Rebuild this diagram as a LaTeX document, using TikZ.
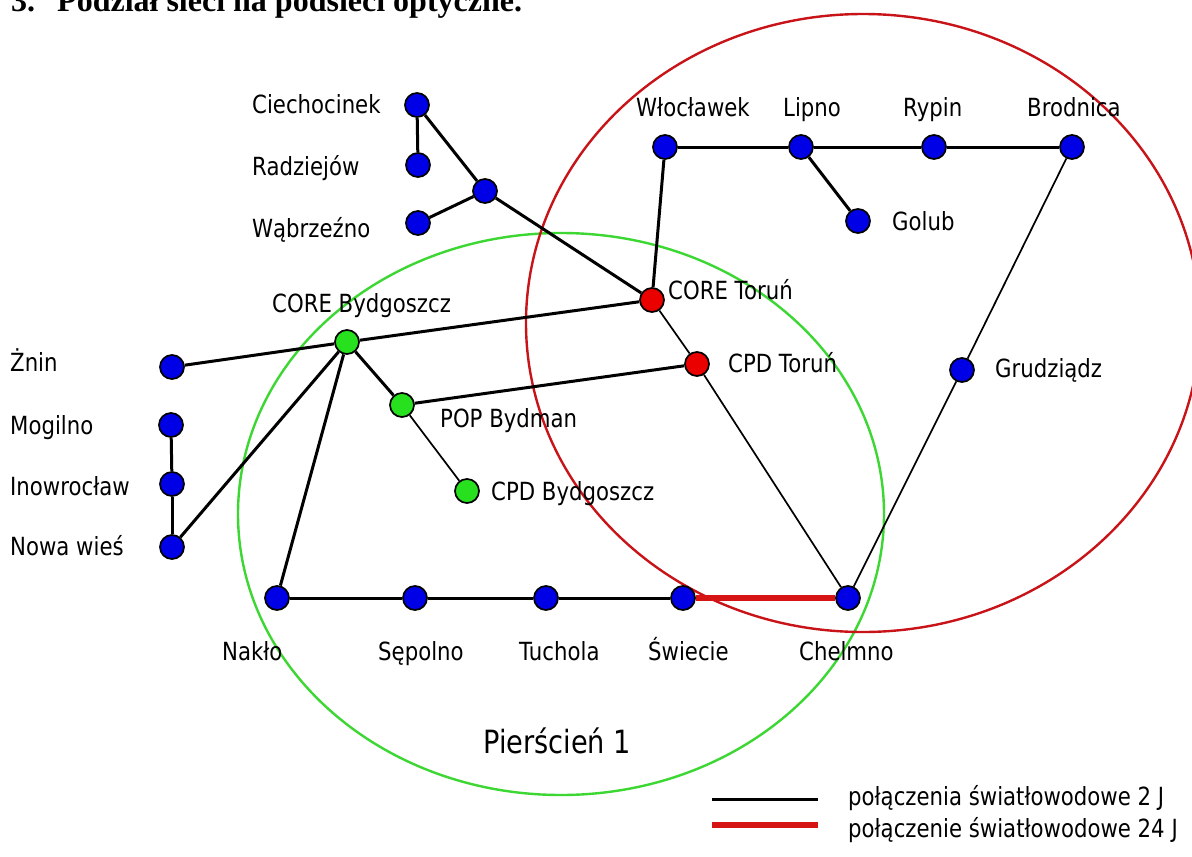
\documentclass[tikz,border=0pt]{standalone}
\usepackage{fontspec}
\setmainfont{DejaVu Sans}[FakeStretch=0.85]
\newfontfamily\titlefont{Liberation Serif}
\definecolor{nodeblue}{RGB}{0,0,230}
\definecolor{nodegreen}{RGB}{40,225,30}
\definecolor{nodered}{RGB}{235,0,0}
\definecolor{ringgreen}{RGB}{60,215,50}
\definecolor{ringred}{RGB}{200,20,25}
\definecolor{linkred}{RGB}{215,20,20}
\begin{document}
\begin{tikzpicture}[x=1pt,y=-1pt,
  city/.style={circle,draw=black,line width=1.7pt,fill=nodeblue,minimum size=24pt,inner sep=0pt},
  gcity/.style={city,fill=nodegreen},
  rcity/.style={city,fill=nodered},
  lbl/.style={anchor=base west,inner sep=0pt,font=\fontsize{25}{29}\selectfont},
  link/.style={line width=3pt,black},
  thinlink/.style={line width=1.7pt,black},
  biglink/.style={line width=5.5pt,linkred},
  ring/.style={line width=2.4pt}
]
\clip (0,0) rectangle (1192,857);
\useasboundingbox (0,0) rectangle (1192,857);
\fill[white] (0,0) rectangle (1192,857);

% title (cut off at top)
\node[anchor=base west,inner sep=0pt,font=\titlefont\bfseries\fontsize{32}{36}\selectfont] (tnum) at (11,11) {3.};
\node[anchor=base west,inner sep=0pt,font=\titlefont\bfseries\fontsize{32}{36}\selectfont] (title) at (57,11) {Podział sieci na podsieci optyczne.};

% rings
\draw[ring,ringgreen] (561,514) ellipse [x radius=323, y radius=281];
\draw[ring,ringred] (863,323) ellipse [x radius=337, y radius=309];

% nodes
\node[city] (ciech) at (417,105) {};
\node[city] (radz) at (418,165) {};
\node[city] (wabrz) at (418,223) {};
\node[city] (junc) at (485,191) {};
\node[city] (wloc) at (665,147) {};
\node[city] (lipno) at (801,147) {};
\node[city] (rypin) at (934,147) {};
\node[city] (brod) at (1072,147) {};
\node[city] (golub) at (858,221) {};
\node[rcity] (coret) at (652,300) {};
\node[rcity] (cpdt) at (697,364) {};
\node[city] (grudz) at (962,370) {};
\node[gcity] (coreb) at (347,342) {};
\node[gcity] (pop) at (402,405) {};
\node[gcity] (cpdb) at (467,491) {};
\node[city] (znin) at (172,367) {};
\node[city] (mogil) at (171,425) {};
\node[city] (inowr) at (172,484) {};
\node[city] (nowaw) at (172,547) {};
\node[city] (naklo) at (277,598) {};
\node[city] (sepol) at (415,598) {};
\node[city] (tuch) at (546,598) {};
\node[city] (swiec) at (683,598) {};
\node[city] (chelm) at (848,598) {};

% links
\draw[link] (ciech) -- (radz);
\draw[link] (ciech) -- (junc);
\draw[link] (wabrz) -- (junc);
\draw[link] (junc) -- (coret);
\draw[link] (wloc) -- (lipno);
\draw[link] (lipno) -- (rypin);
\draw[link] (rypin) -- (brod);
\draw[link] (lipno) -- (golub);
\draw[link] (wloc) -- (coret);
\draw[thinlink] (brod) -- (grudz);
\draw[thinlink] (grudz) -- (chelm);
\draw[thinlink] (coret) -- (cpdt);
\draw[thinlink] (cpdt) -- (chelm);
\draw[link] (coreb) -- (coret);
\draw[link] (znin) -- (coreb);
\draw[link] (coreb) -- (pop);
\draw[link] (pop) -- (cpdt);
\draw[thinlink] (pop) -- (cpdb);
\draw[link] (coreb) -- (nowaw);
\draw[link] (coreb) -- (naklo);
\draw[link] (mogil) -- (inowr);
\draw[link] (inowr) -- (nowaw);
\draw[link] (naklo) -- (sepol);
\draw[link] (sepol) -- (tuch);
\draw[link] (tuch) -- (swiec);
\draw[biglink] (swiec) -- (chelm);

% labels
\node[lbl] (lciech) at (252,113) {Ciechocinek};
\node[lbl] (lradz) at (252,175) {Radziejów};
\node[lbl] (lwabrz) at (252,237) {Wąbrzeźno};
\node[lbl] (lwloc) at (636,116) {Włocławek};
\node[lbl] (llipno) at (783,116) {Lipno};
\node[lbl] (lrypin) at (903,116) {Rypin};
\node[lbl] (lbrod) at (1027,116) {Brodnica};
\node[lbl] (lgolub) at (892,230) {Golub};
\node[lbl] (lcoret) at (668,299) {CORE Toruń};
\node[lbl] (lcpdt) at (728,372) {CPD Toruń};
\node[lbl] (lgrudz) at (995,377) {Grudziądz};
\node[lbl] (lcoreb) at (272,312) {CORE Bydgoszcz};
\node[lbl] (lpop) at (440,427) {POP Bydman};
\node[lbl] (lcpdb) at (491,500) {CPD Bydgoszcz};
\node[lbl] (lznin) at (10,371) {Żnin};
\node[lbl] (lmogil) at (10,434) {Mogilno};
\node[lbl] (linowr) at (10,495) {Inowrocław};
\node[lbl] (lnowaw) at (10,555) {Nowa wieś};
\node[lbl] (lnaklo) at (222,660) {Nakło};
\node[lbl] (lsepol) at (378,660) {Sępolno};
\node[lbl] (ltuch) at (519,660) {Tuchola};
\node[lbl] (lswiec) at (648,660) {Świecie};
\node[lbl] (lchelm) at (799,660) {Chelmno};
\node[lbl,font=\fontsize{32}{36}\selectfont] (ring1) at (483,753) {Pierścień 1};

% legend
\coordinate (lg1a) at (712,799);
\coordinate (lg1b) at (818,799);
\coordinate (lg2a) at (712,825);
\coordinate (lg2b) at (818,825);
\draw[link] (lg1a) -- (lg1b);
\draw[biglink] (lg2a) -- (lg2b);
\node[lbl] (leg1) at (848,805) {połączenia światłowodowe 2 J};
\node[lbl] (leg2) at (848,837) {połączenie światłowodowe 24 J};
\end{tikzpicture}
\end{document}
